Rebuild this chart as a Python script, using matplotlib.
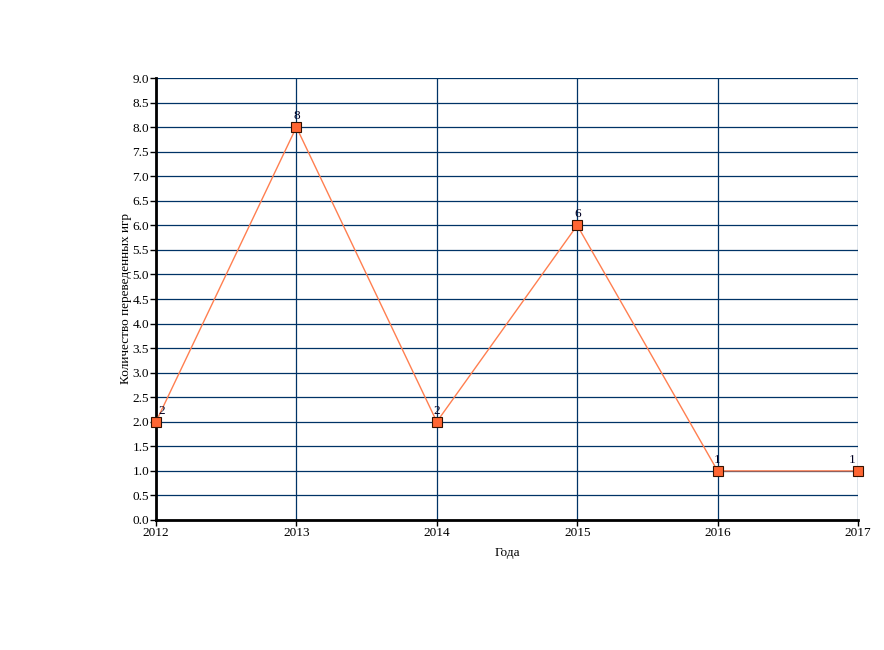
import numpy as np
import matplotlib
matplotlib.use('Agg')
import matplotlib.pyplot as plt

plt.rcParams['font.family'] = ['Liberation Serif', 'DejaVu Serif']

# data
years = [2012, 2013, 2014, 2015, 2016, 2017]
games = [2, 8, 2, 6, 1, 1]
yticks = np.arange(0, 9.01, 0.5)

fig = plt.figure(figsize=(8.84, 6.5), dpi=100)
ax = fig.add_axes([156/884, 1-520/650, (858-156)/884, (520-78)/650])

ax.plot(years, games, color='#FF7F50', lw=1, marker='s', ms=7.5,
        mfc='#FF6633', mec='#331100', mew=0.8, zorder=3, clip_on=False)

# labels over points
for i, (x, y) in enumerate(zip(years, games)):
    dx = 4 if i == 0 else (-4 if i == len(years)-1 else 0)
    ax.annotate(str(y), (x, y), xytext=(dx, 3.5), textcoords='offset points',
                ha='center', va='bottom', fontsize=9.5, color='#000022')

ax.set_xlim(2012, 2017)
ax.set_ylim(0, 9)
ax.set_xticks(years)
ax.set_yticks(yticks)
ax.set_yticklabels(['%.1f' % v for v in yticks])
ax.grid(True, color='#003366', lw=0.9)
ax.set_axisbelow(True)

for s in ['top', 'right']:
    ax.spines[s].set_visible(False)
ax.spines['left'].set_linewidth(2)
ax.spines['bottom'].set_linewidth(2)
ax.tick_params(direction='out', length=4, width=1, labelsize=9.5, pad=1)

ax.set_xlabel('Года', fontsize=9.5, labelpad=6)
ax.set_ylabel('Количество переведенных игр', fontsize=9.5, labelpad=0)

plt.savefig('out.png')
